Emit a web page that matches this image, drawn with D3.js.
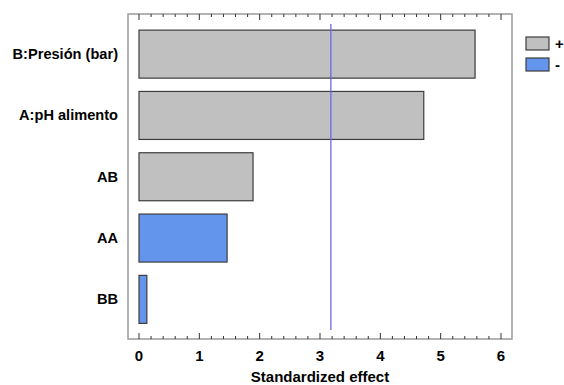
<!DOCTYPE html>
<html><head><meta charset="utf-8">
<script src="https://cdn.jsdelivr.net/npm/d3@7"></script>
<style>body{margin:0;background:#fff}svg{display:block}text{font-family:"Liberation Sans",Arial,sans-serif;font-weight:bold;fill:#000}</style>
</head><body><svg id="c" width="564" height="385"></svg>
<script>
const categories = ["B:Presión (bar)", "A:pH alimento", "AB", "AA", "BB"];
const effects = [5.57, 4.72, 1.89, 1.46, 0.13];
const signs = ["+", "+", "+", "-", "-"];
const criticalValue = 3.18;
const xTicks = [0, 1, 2, 3, 4, 5, 6];
const legendLabels = ["+", "-"];

const colors = {"+": "#c0c0c0", "-": "#6495ed"};
const svg = d3.select("#c");
const frame = {l: 128, r: 512, t: 14, b: 339};
const x = d3.scaleLinear().domain([0, 6]).range([139, 501]);
const y = d3.scaleBand().domain(categories).range([23.5, 330]).paddingInner(0.217).paddingOuter(0.108);

// frame
svg.append("rect").attr("x", frame.l).attr("y", frame.t).attr("width", frame.r - frame.l).attr("height", frame.b - frame.t)
  .attr("fill", "none").attr("stroke", "#9a9a9a").attr("stroke-width", 1.5);

// ticks bottom and top (inward)
const minor = d3.range(0, 6.001, 0.2);
minor.forEach(v => {
  const isMajor = Math.abs(v - Math.round(v)) < 1e-6;
  const len = isMajor ? 6 : 3;
  svg.append("line").attr("x1", x(v)).attr("x2", x(v)).attr("y1", frame.b).attr("y2", frame.b - len).attr("stroke", "#333").attr("stroke-width", 1);
  svg.append("line").attr("x1", x(v)).attr("x2", x(v)).attr("y1", frame.t).attr("y2", frame.t + len).attr("stroke", "#333").attr("stroke-width", 1);
});

// bars
svg.selectAll("rect.bar").data(categories).enter().append("rect").attr("class", "bar")
  .attr("x", x(0)).attr("y", d => y(d))
  .attr("width", (d, i) => x(effects[i]) - x(0)).attr("height", y.bandwidth())
  .attr("fill", (d, i) => colors[signs[i]]).attr("stroke", "#3c3c3c").attr("stroke-width", 1.2);

// critical line
svg.append("line").attr("x1", x(criticalValue)).attr("x2", x(criticalValue)).attr("y1", 24).attr("y2", 330)
  .attr("stroke", "#6a6ae6").attr("stroke-width", 1.3);

// category labels
svg.selectAll("text.cat").data(categories).enter().append("text").attr("class", "cat")
  .attr("x", 118).attr("y", d => y(d) + y.bandwidth() / 2 + 5).attr("text-anchor", "end")
  .attr("font-size", "14.6px").text(d => d);

// x tick labels
svg.selectAll("text.xt").data(xTicks).enter().append("text").attr("class", "xt")
  .attr("x", d => x(d)).attr("y", 361).attr("text-anchor", "middle").attr("font-size", "15px").text(d => d);

svg.append("text").attr("x", 320).attr("y", 382).attr("text-anchor", "middle").attr("font-size", "15px").text("Standardized effect");

// legend
legendLabels.forEach((s, i) => {
  svg.append("rect").attr("x", 526).attr("y", 37 + i * 21).attr("width", 23).attr("height", 13)
    .attr("fill", colors[s]).attr("stroke", "#3c3c3c").attr("stroke-width", 1.2);
  svg.append("text").attr("x", 555).attr("y", 49 + i * 21).attr("font-size", "15px").text(s);
});
</script></body></html>
